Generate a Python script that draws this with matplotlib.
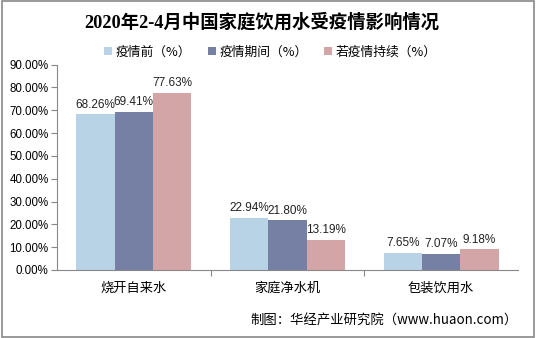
import matplotlib
matplotlib.use("Agg")
import matplotlib.pyplot as plt
import numpy as np
from matplotlib.patches import Rectangle

plt.rcParams['font.family'] = ['Liberation Sans', 'Noto Sans CJK SC', 'DejaVu Sans']

categories = ['烧开自来水', '家庭净水机', '包装饮用水']
series_names = ['疫情前（%）', '疫情期间（%）', '若疫情持续（%）']
before = [68.26, 22.94, 7.65]
during = [69.41, 21.80, 7.07]
continued = [77.63, 13.19, 9.18]
yticks = [0, 10, 20, 30, 40, 50, 60, 70, 80, 90]
colors = ['#B9D3E6', '#7680A4', '#D4A5A6']
title = '2020年2-4月中国家庭饮用水受疫情影响情况'
source = '制图：华经产业研究院（www.huaon.com）'

fig = plt.figure(figsize=(5.36, 3.38), dpi=100)
ax = fig.add_axes([57/536, 1-270/338, 461/536, (270-64.5)/338])

x = np.arange(len(categories))
w = 0.25
for i, (vals, c, name) in enumerate(zip([before, during, continued], colors, series_names)):
    pos = x + (i - 1) * w
    ax.bar(pos, vals, width=w, color=c, label=name)
    for p, v in zip(pos, vals):
        ax.text(p, v + 1.5, f'{v:.2f}%', ha='center', va='bottom', fontsize=8.5, color='#222222')

ax.set_xlim(-0.5, 2.5)
ax.set_ylim(0, 90)
ax.set_yticks(yticks)
ax.set_yticklabels([f'{t:.2f}%' for t in yticks], fontsize=8.3)
ax.set_xticks([0.5, 1.5])
ax.set_xticklabels([])
ax.tick_params(axis='x', length=4, color='#888888', direction='out')
ax.tick_params(axis='y', length=4, color='#888888', pad=2)
for c, lab in zip(x, categories):
    ax.text(c, -5, lab, ha='center', va='top', fontsize=9.5, family=['Noto Sans CJK SC', 'DejaVu Sans'])
for s in ['top', 'right']:
    ax.spines[s].set_visible(False)
for s in ['left', 'bottom']:
    ax.spines[s].set_color('#888888')
    ax.spines[s].set_linewidth(0.8)

fig.text(0.488, 1-22/338, title, ha='center', va='center', fontsize=13.2, fontweight='bold',
         family=['Liberation Serif', 'Noto Sans CJK SC'])

leg = fig.legend(loc='center', bbox_to_anchor=(0.505, 1-52/338), ncol=3, frameon=False,
                 prop={'family': ['Noto Sans CJK SC', 'DejaVu Sans'], 'size': 9.2},
                 handlelength=0.6, handleheight=0.6, handletextpad=0.3, columnspacing=1.3)

fig.text(518/536, 1-321/338, source, ha='right', va='center', fontsize=9.6,
         family=['Noto Sans CJK SC', 'DejaVu Sans'])

fig.patches.append(Rectangle((0.003, 0.003), 0.994, 0.994, transform=fig.transFigure,
                             fill=False, edgecolor='#888888', linewidth=1.2))

fig.savefig('out.png', dpi=100)
